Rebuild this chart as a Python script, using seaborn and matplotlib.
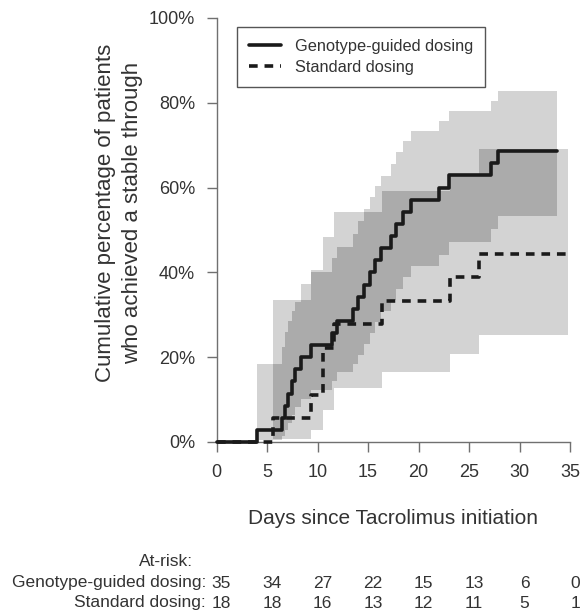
import numpy as np
import matplotlib
matplotlib.use("Agg")
import matplotlib.pyplot as plt
import matplotlib.transforms as mtransforms
from matplotlib.lines import Line2D
import seaborn as sns

# ---------------- data ----------------
geno_t = [0, 4.0, 6.45, 6.8, 7.1, 7.45, 7.8, 8.4, 9.4, 11.4, 11.9, 13.5, 14.0, 14.6,
          15.2, 15.7, 16.3, 17.3, 17.8, 18.5, 19.3, 22.0, 23.0, 27.2, 27.9, 33.7]
geno_pct = [0, 2.9, 5.7, 8.6, 11.4, 14.3, 17.1, 20.0, 22.9, 25.7, 28.6, 31.4, 34.3, 37.1,
            40.0, 42.9, 45.7, 48.6, 51.4, 54.3, 57.1, 60.0, 62.9, 65.7, 68.6, 68.6]
geno_lo = [0, 0.4, 1.5, 2.9, 4.5, 6.3, 8.2, 10.2, 12.3, 14.4, 16.4, 18.5, 20.5, 23.0,
           25.6, 28.2, 30.8, 33.5, 36.2, 38.9, 41.5, 44.0, 47.1, 50.2, 53.2, 53.2]
geno_hi = [0, 18.5, 22.5, 26.0, 28.5, 31.0, 33.0, 37.3, 40.0, 43.3, 46.0, 49.0, 52.2, 55.0,
           57.7, 60.3, 62.8, 65.6, 68.3, 71.0, 73.4, 75.8, 78.0, 80.5, 82.8, 82.8]

std_t = [0, 5.6, 9.4, 10.5, 11.6, 16.4, 23.1, 26.0, 34.8]
std_pct = [0, 5.6, 11.1, 22.2, 27.8, 33.3, 38.9, 44.4, 44.4]
std_lo = [0, 0.8, 2.8, 7.5, 12.7, 16.5, 20.7, 25.2, 25.2]
std_hi = [0, 33.4, 40.5, 48.3, 54.2, 59.3, 63.0, 69.0, 69.0]

x_ticks = [0, 5, 10, 15, 20, 25, 30, 35]
y_ticks = [0, 20, 40, 60, 80, 100]
y_ticklabels = ["0%", "20%", "40%", "60%", "80%", "100%"]
risk_geno = [35, 34, 27, 22, 15, 13, 6, 0]
risk_std = [18, 18, 16, 13, 12, 11, 5, 1]
series_names = ["Genotype-guided dosing", "Standard dosing"]

# ---------------- style ----------------
sns.set_theme(style="ticks")
plt.rcParams["font.family"] = ["Liberation Sans", "DejaVu Sans"]
TXT = "#333333"
AX = "#707070"
LIGHT = "#d3d3d3"
DARK = "#ababab"
LINE = "#1a1a1a"
DASH = (0, (2.4, 1.9))

W, H = 582, 616
fig = plt.figure(figsize=(W / 100, H / 100), dpi=100)
x0, x1, ytop, ybot = 216.5, 570.0, 18.0, 442.0
ax = fig.add_axes([x0 / W, 1 - ybot / H, (x1 - x0) / W, (ybot - ytop) / H])
ax.set_facecolor("white")

gt, gp = np.array(geno_t), np.array(geno_pct) / 100
glo, ghi = np.array(geno_lo) / 100, np.array(geno_hi) / 100
st, sp = np.array(std_t), np.array(std_pct) / 100
slo, shi = np.array(std_lo) / 100, np.array(std_hi) / 100

# confidence bands (light)
ax.fill_between(gt, glo, ghi, step="post", color=LIGHT, lw=0, zorder=1)
ax.fill_between(st, slo, shi, step="post", color=LIGHT, lw=0, zorder=1)

# overlap of the two bands (darker)
grid = np.union1d(gt, st)
def stepval(t, v, g):
    idx = np.clip(np.searchsorted(t, g, side="right") - 1, 0, len(t) - 1)
    return np.asarray(v)[idx]
g_lo_g, g_hi_g = stepval(gt, glo, grid), stepval(gt, ghi, grid)
s_lo_g, s_hi_g = stepval(st, slo, grid), stepval(st, shi, grid)
valid = (grid < gt[-1]) & (grid < st[-1])
olo = np.maximum(g_lo_g, s_lo_g)
ohi = np.minimum(g_hi_g, s_hi_g)
ok = valid & (ohi > olo)
xs = np.repeat(grid, 2)[1:-1]
lo_s = np.repeat(olo[:-1], 2)
hi_s = np.repeat(ohi[:-1], 2)
m_s = np.repeat(ok[:-1], 2)
ax.fill_between(xs, lo_s, hi_s, where=m_s, color=DARK, lw=0, zorder=2)

# step curves
sns.lineplot(x=gt, y=gp, ax=ax, drawstyle="steps-post", color=LINE, lw=2.6,
             estimator=None, sort=False, zorder=4, clip_on=False)
sns.lineplot(x=st, y=sp, ax=ax, drawstyle="steps-post", color=LINE, lw=2.6,
             linestyle=DASH, estimator=None, sort=False, zorder=3, clip_on=False)

ax.set_xlim(0, 35)
ax.set_ylim(0, 1)
ax.set_xticks(x_ticks)
ax.set_xticklabels([str(v) for v in x_ticks])
ax.set_yticks(np.array(y_ticks) / 100)
ax.set_yticklabels(y_ticklabels)
ax.set_xlabel("")
ax.set_ylabel("")
for s in ["top", "right"]:
    ax.spines[s].set_visible(False)
for s in ["left", "bottom"]:
    ax.spines[s].set_color(AX)
    ax.spines[s].set_linewidth(1.0)
ax.tick_params(axis="both", direction="out", length=7.5, width=1.0, color=AX,
               labelcolor=TXT, labelsize=13, pad=8)

# legend
handles = [Line2D([], [], color=LINE, lw=2.6),
           Line2D([], [], color=LINE, lw=2.6, linestyle=DASH)]
leg = fig.legend(handles, series_names, loc="upper left",
                 bbox_to_anchor=(236.7 / W, 1 - 27 / H), fontsize=11.8,
                 frameon=True, fancybox=False, shadow=False, framealpha=1,
                 handlelength=2.0, handletextpad=0.85, borderpad=0.72,
                 labelspacing=0.38, borderaxespad=0)
leg.get_frame().set_edgecolor("#555555")
leg.get_frame().set_linewidth(1.0)
for t in leg.get_texts():
    t.set_color(TXT)

# axis labels
fig.text(119 / W, 1 - 213 / H,
         "Cumulative percentage of patients\nwho achieved a stable through",
         rotation=90, ha="center", va="center", fontsize=16, color=TXT,
         linespacing=1.38, multialignment="center")
fig.text(393 / W, 1 - 519 / H, "Days since Tacrolimus initiation",
         ha="center", va="center", fontsize=15, color=TXT)

# at-risk table
fig.text(193 / W, 1 - 562 / H, "At-risk:", ha="right", va="center",
         fontsize=12.5, color=TXT)
fig.text(206 / W, 1 - 583 / H, series_names[0] + ":", ha="right", va="center",
         fontsize=12.5, color=TXT)
fig.text(206 / W, 1 - 603 / H, series_names[1] + ":", ha="right", va="center",
         fontsize=12.5, color=TXT)
trans = mtransforms.blended_transform_factory(ax.transData, fig.transFigure)
trans = trans + mtransforms.ScaledTranslation(5 / 100, 0, fig.dpi_scale_trans)
for xv, a, b in zip(x_ticks, risk_geno, risk_std):
    ax.text(xv, 1 - 583 / H, str(a), transform=trans, ha="center", va="center",
            fontsize=12.5, color=TXT, clip_on=False)
    ax.text(xv, 1 - 603 / H, str(b), transform=trans, ha="center", va="center",
            fontsize=12.5, color=TXT, clip_on=False)

fig.savefig("out.png", dpi=100, facecolor="white")
